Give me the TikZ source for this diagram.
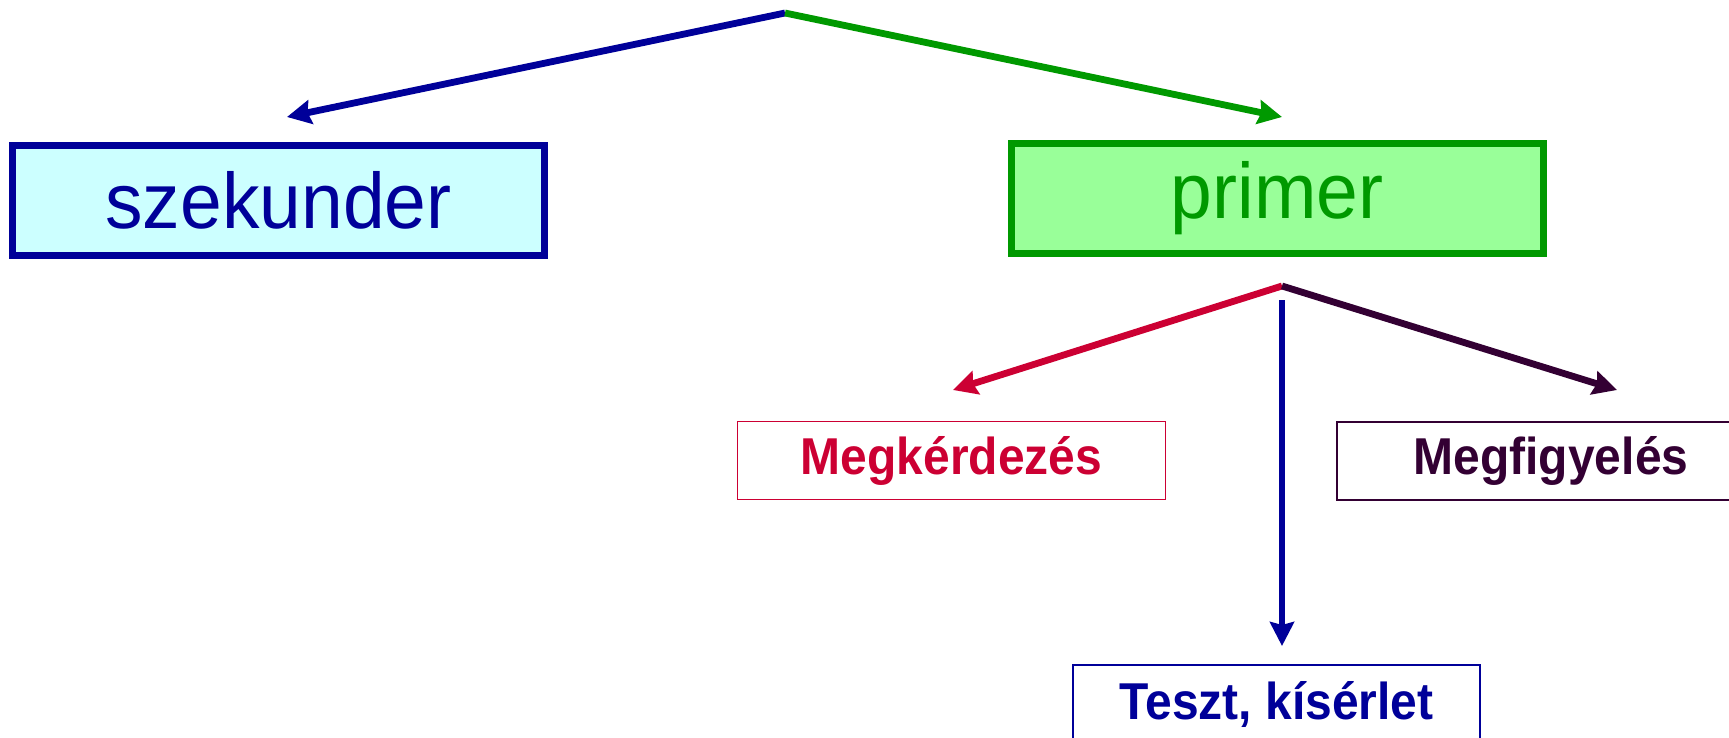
\documentclass[tikz,border=0pt]{standalone}
\usepackage{fontspec}
\setmainfont{Liberation Sans}
\usetikzlibrary{arrows.meta}
\definecolor{navy}{HTML}{000099}
\definecolor{cyanfill}{HTML}{CCFFFF}
\definecolor{grn}{HTML}{009900}
\definecolor{grnfill}{HTML}{99FF99}
\definecolor{crimson}{HTML}{CC0033}
\definecolor{plum}{HTML}{330033}
% slightly taller lettering
\newcommand\tallbig[1]{\scalebox{1}[1.05]{#1}}
\newcommand\tallsmall[1]{\scalebox{1}[1.08]{#1}}
\tikzset{
  bigbox/.style={draw, line width=3.5pt, minimum width=266pt, minimum height=55pt,
    inner sep=0pt, font=\fontsize{37.5pt}{40pt}\selectfont},
  smallbox/.style={draw, line width=0.9pt, minimum height=39pt,
    inner sep=0pt, font=\fontsize{24pt}{26pt}\selectfont\bfseries},
  link/.style={line width=3.4pt, -{Stealth[length=12pt,width=12pt,inset=1.5pt]}},
}
\begin{document}
\begin{tikzpicture}[x=0.5pt, y=-0.5pt]
  \useasboundingbox (0,0) rectangle (1729,738);

  % upper level
  \node[bigbox, draw=navy, fill=cyanfill, text=navy] (szek) at (278.5,200.5) {\tallbig{szekunder}};
  \node[bigbox, draw=grn, fill=grnfill, text=grn] (prim) at (1277,198.5) {\tallbig{primer}};

  % lower level
  \node[smallbox, draw=crimson, text=crimson, minimum width=214pt] (kerd) at (951.5,460.5) {\tallsmall{Megkérdezés}};
  \node[smallbox, draw=plum, text=plum, minimum width=214pt] (figy) at (1551,461) {\tallsmall{Megfigyelés}};
  \node[smallbox, draw=navy, text=navy, minimum width=203.5pt] (teszt) at (1276.5,704) {\tallsmall{Teszt, kísérlet}};

  % branching points and arrow tips
  \coordinate (top) at (785,13);
  \coordinate (split) at (1282,286);
  \coordinate (tszek) at (287,117);
  \coordinate (tprim) at (1282,117);
  \coordinate (tkerd) at (953,390);
  \coordinate (tfigy) at (1617,390);
  \coordinate (vstart) at (1282,300);
  \coordinate (tteszt) at (1282,646);

  \draw[link, navy] (top) -- (tszek);
  \draw[link, grn] (top) -- (tprim);
  \draw[link, crimson] (split) -- (tkerd);
  \draw[link, plum] (split) -- (tfigy);
  \draw[link, navy] (vstart) -- (tteszt);
\end{tikzpicture}
\end{document}
